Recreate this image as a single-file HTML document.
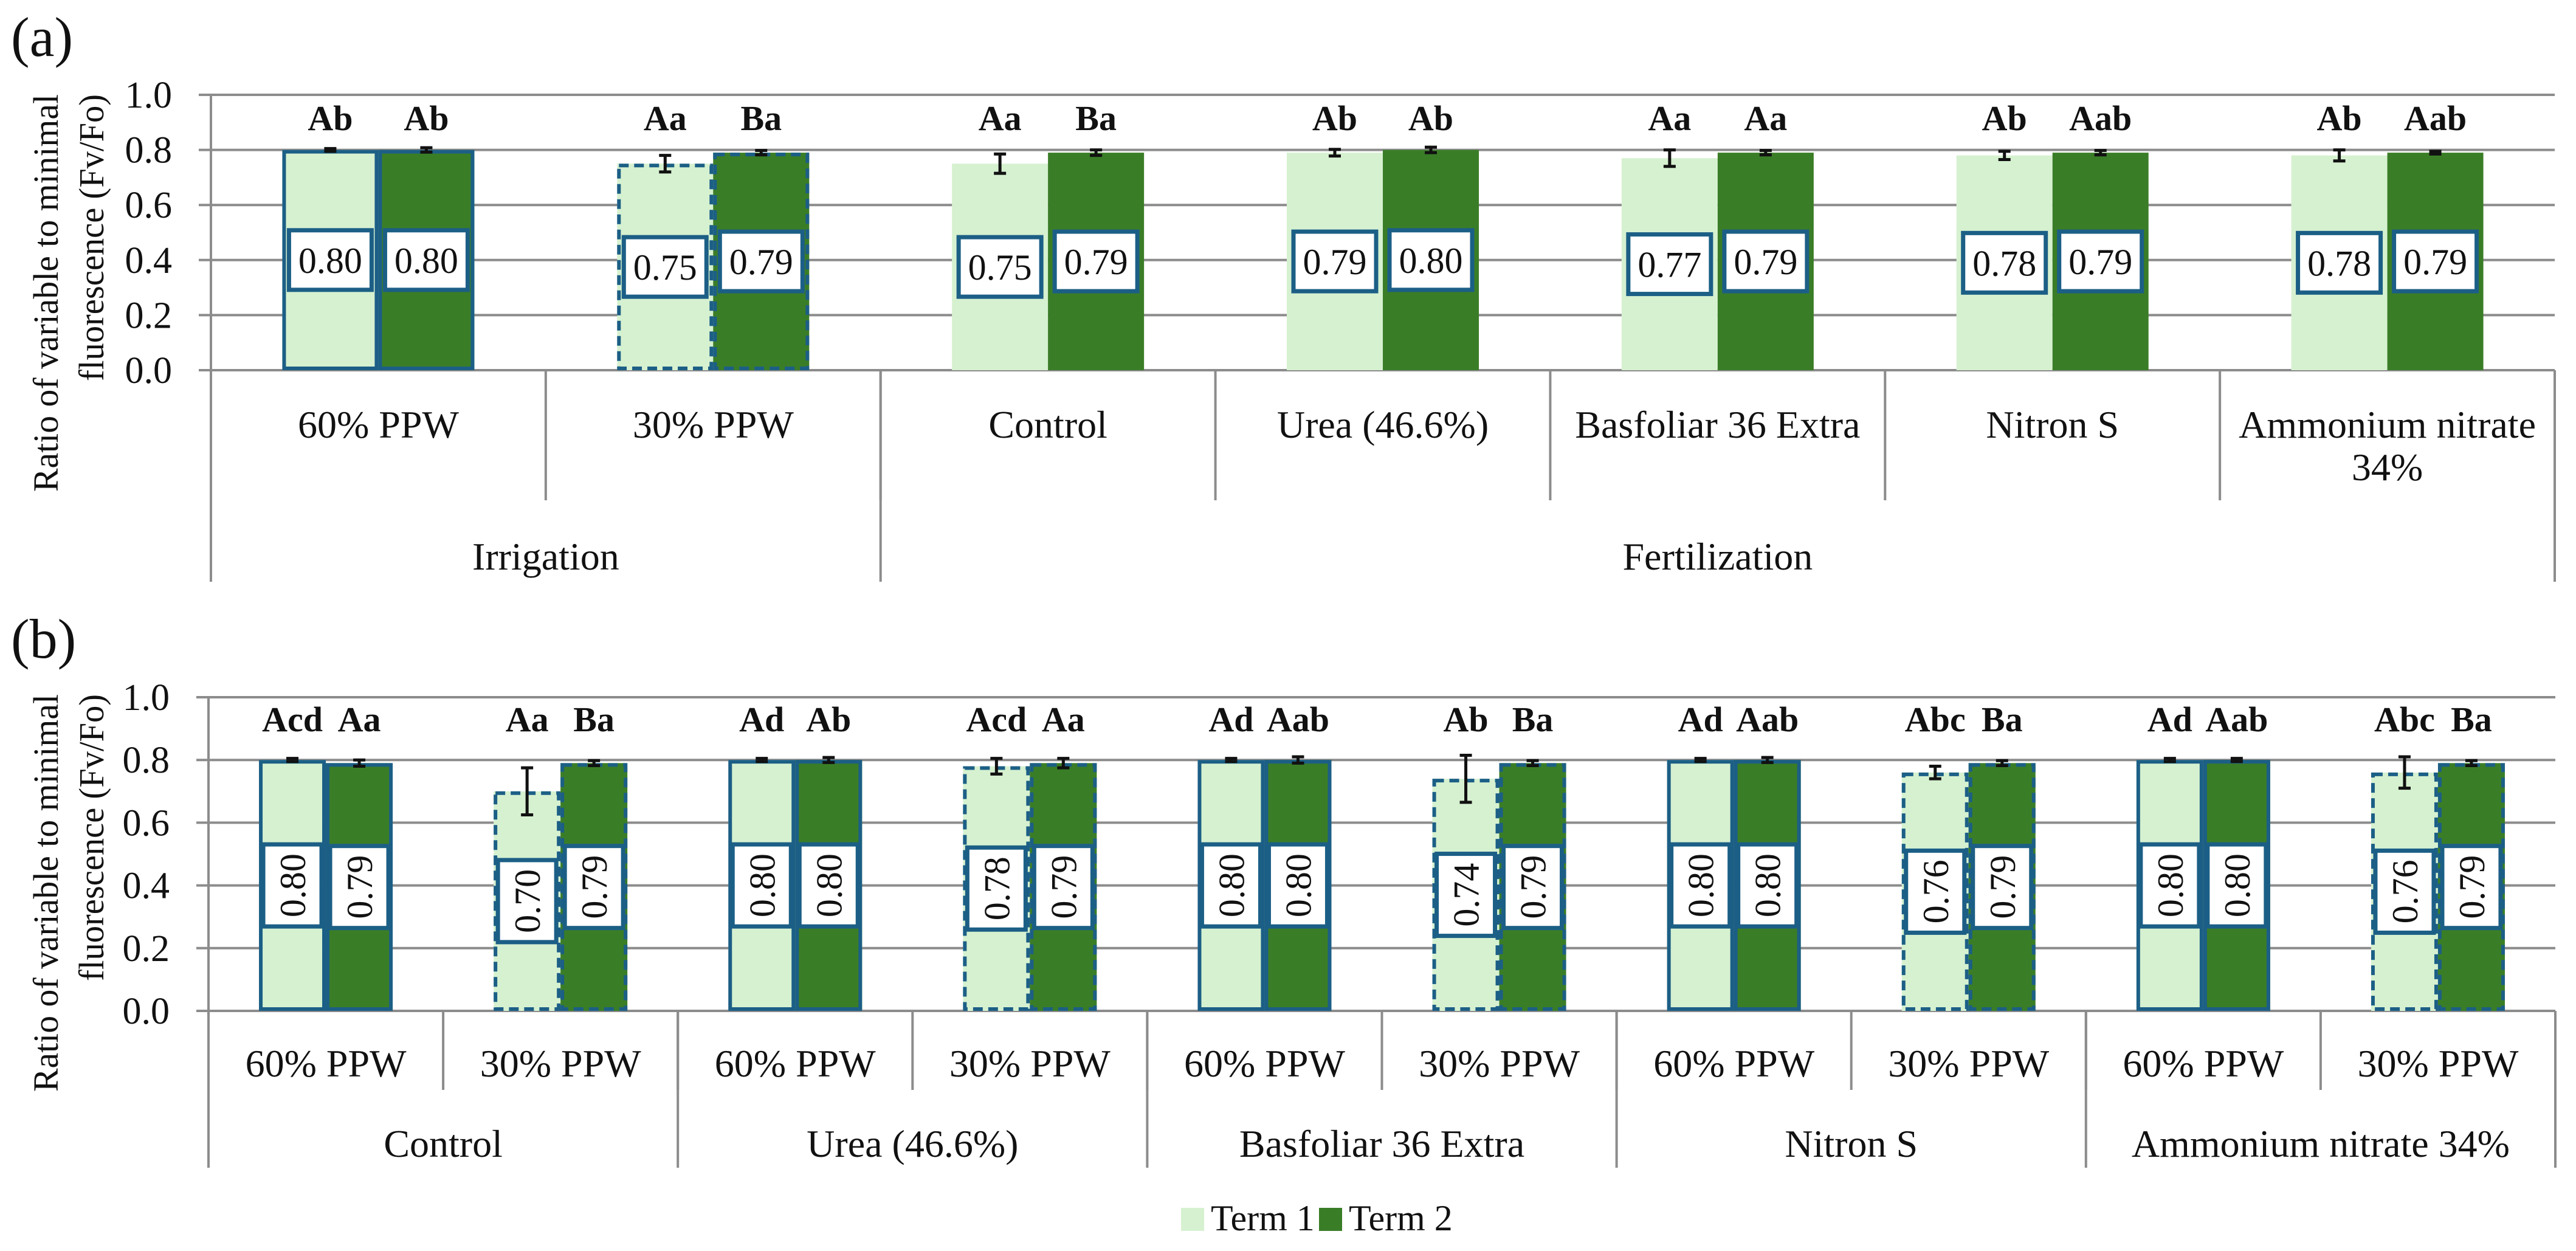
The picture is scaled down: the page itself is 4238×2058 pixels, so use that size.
<!DOCTYPE html>
<html><head><meta charset="utf-8"><style>
html,body{margin:0;padding:0;background:#fff}
svg{display:block}
text{font-family:"Liberation Serif",serif;fill:#111}
</style></head><body>
<svg id="chart" xmlns="http://www.w3.org/2000/svg" width="4238" height="2058" viewBox="0 0 4238 2058">
<text x="18" y="92" font-size="92">(a)</text>
<text x="18" y="1082" font-size="92">(b)</text>
<g>
<rect x="1943" y="1987" width="38" height="38" fill="#d6f1d0"/>
<text x="1992" y="2024" font-size="60">Term 1</text>
<rect x="2170" y="1987" width="38" height="38" fill="#3a7d27"/>
<text x="2219" y="2024" font-size="60">Term 2</text>
</g>
</svg>
<script>
// Panel (a) data
const aCats = ["60% PPW","30% PPW","Control","Urea (46.6%)","Basfoliar 36 Extra","Nitron S","Ammonium nitrate|34%"];
const aT1 = [0.80,0.75,0.75,0.79,0.77,0.78,0.78];
const aT2 = [0.80,0.79,0.79,0.80,0.79,0.79,0.79];
const aErr1 = [0.005,0.03,0.035,0.012,0.03,0.015,0.02];
const aErr2 = [0.008,0.008,0.01,0.01,0.008,0.008,0.005];
const aLet1 = ["Ab","Aa","Aa","Ab","Aa","Ab","Ab"];
const aLet2 = ["Ab","Ba","Ba","Ab","Aa","Aab","Aab"];
const aBorder = ["solid","dashed","none","none","none","none","none"];
const aGroups = ["Irrigation","Fertilization"];
const aGroupSpan = [2,5];
// Panel (b) data
const bCats = ["60% PPW","30% PPW","60% PPW","30% PPW","60% PPW","30% PPW","60% PPW","30% PPW","60% PPW","30% PPW"];
const bT1 = [0.80,0.70,0.80,0.78,0.80,0.74,0.80,0.76,0.80,0.76];
const bT2 = [0.79,0.79,0.80,0.79,0.80,0.79,0.80,0.79,0.80,0.79];
const bErr1 = [0.005,0.075,0.005,0.025,0.005,0.075,0.005,0.02,0.005,0.05];
const bErr2 = [0.01,0.008,0.008,0.015,0.01,0.008,0.008,0.008,0.005,0.008];
const bLet1 = ["Acd","Aa","Ad","Acd","Ad","Ab","Ad","Abc","Ad","Abc"];
const bLet2 = ["Aa","Ba","Ab","Aa","Aab","Ba","Aab","Ba","Aab","Ba"];
const bBorder = ["solid","dashed","solid","dashed","solid","dashed","solid","dashed","solid","dashed"];
const bGroups = ["Control","Urea (46.6%)","Basfoliar 36 Extra","Nitron S","Ammonium nitrate 34%"];
const bGroupSpan = [2,2,2,2,2];
const yTicks = ["0.0","0.2","0.4","0.6","0.8","1.0"];

const NS="http://www.w3.org/2000/svg";
const svg=document.getElementById('chart');
function mk(tag,attrs,parent){const e=document.createElementNS(NS,tag);for(const k in attrs)e.setAttribute(k,attrs[k]);(parent||svg).appendChild(e);return e;}

function panel(P){
  const g=mk('g',{});
  
  
  const y=v=>P.y0-(v)*(P.y0-P.y1);
  const n=P.cats.length, cw=(P.xR-P.x0)/n;
  const cx=i=>P.x0+cw*(i+0.5);
  yTicks.forEach(t=>{
    const v=parseFloat(t);
    const l=mk('line',{x1:P.gx,x2:P.xR,y1:y(v),y2:y(v),stroke:'#8c8c8c','stroke-width':4},g);
    
    
    const tx=mk('text',{x:P.tickX,y:y(v)+21,'font-size':62,'text-anchor':'end'},g);
    tx.textContent=t;
    
    
  });
  const tt=mk('text',{transform:`translate(${P.titleX1},${P.titleY}) rotate(-90)`,'font-size':58,'text-anchor':'end',fill:'#333',textLength:654,lengthAdjust:'spacingAndGlyphs'},g);
  tt.textContent="Ratio of variable to minimal";
  
  
  const tt2=mk('text',{transform:`translate(${P.titleX2},${P.titleY}) rotate(-90)`,'font-size':58,'text-anchor':'end',fill:'#333',textLength:P.t2len,lengthAdjust:'spacingAndGlyphs'},g);
  tt2.textContent="fluorescence (Fv/Fo)";
  
  
  const ax=mk('line',{x1:P.x0,x2:P.x0,y1:P.y1,y2:P.gBottom,stroke:'#8c8c8c','stroke-width':4},g);
  
  
  for(let i=1;i<=n;i++){
    const x=P.x0+cw*i;
    const d=mk('line',{x1:x,x2:x,y1:P.y0,y2:P.cBottom,stroke:'#8c8c8c','stroke-width':4},g);
    
    
  }
  let acc=0;
  P.groups.forEach((gn,k)=>{
    const s=acc; acc+=P.span[k];
    const x=P.x0+cw*acc;
    const d=mk('line',{x1:x,x2:x,y1:P.y0,y2:P.gBottom,stroke:'#8c8c8c','stroke-width':4},g);
    
    
    const t=mk('text',{x:P.x0+cw*(s+acc)/2,y:P.groupY,'font-size':64,'text-anchor':'middle'},g);
    t.textContent=gn;
    
    
  });
  const bw=P.bw;
  P.cats.forEach((c,i)=>{
    const lines=c.split('|');
    lines.forEach((ln,j)=>{
      const t=mk('text',{x:cx(i),y:P.catY+j*70,'font-size':64,'text-anchor':'middle'},g);
      t.textContent=ln;
      
      
    });
    [[P.t1,P.e1,P.l1,'#d6f1d0',-1,'term1'],[P.t2,P.e2,P.l2,'#3a7d27',0,'term2']].forEach(([vals,errs,lets,col,off,tn])=>{
      const v=vals[i], x=cx(i)+off*bw, top=y(v);
      const r=mk('rect',{x:x,y:top,width:bw,height:P.y0-top,fill:col},g);
      
      
      const bs=P.border[i];
      if(bs!=='none'){
        const o=mk('rect',{x:x+3,y:top+3,width:bw-6,height:P.y0-top-6,fill:'none',stroke:'#1c5f86','stroke-width':6,'stroke-dasharray':bs==='dashed'?'16 9':'none'},g);
        
        
      }
      const e=errs[i], ex=x+bw/2;
      const eb=mk('path',{d:`M${ex-10},${y(v+e)}H${ex+10}M${ex},${y(v+e)}V${y(v-e)}M${ex-10},${y(v-e)}H${ex+10}`,stroke:'#111','stroke-width':5,fill:'none'},g);
      
      
      const lt=mk('text',{x:ex,y:P.letY,'font-size':58,'font-weight':'bold','text-anchor':'middle'},g);
      lt.textContent=lets[i];
      
      
      const cy=y(v/2);
      const bx=mk('rect',{x:ex-P.boxW/2,y:cy-P.boxH/2,width:P.boxW,height:P.boxH,fill:'#fff',stroke:'#1c5f86','stroke-width':7},g);
      
      
      const vt=mk('text',{'font-size':60,'text-anchor':'middle',transform:P.rot?`translate(${ex+21},${cy}) rotate(-90)`:`translate(${ex},${cy+21})`},g);
      vt.textContent=v.toFixed(2);
      
      
    });
  });
}
panel({name:'panel-a',cats:aCats,t1:aT1,t2:aT2,e1:aErr1,e2:aErr2,l1:aLet1,l2:aLet2,border:aBorder,groups:aGroups,span:aGroupSpan,
  x0:347,xR:4203,gx:327,y0:609,y1:156,tickX:283,titleX1:95,titleX2:170,titleY:155,t2len:472,cBottom:823,gBottom:957,catY:720,groupY:937,letY:214,bw:158,boxW:136,boxH:98,rot:false});
panel({name:'panel-b',cats:bCats,t1:bT1,t2:bT2,e1:bErr1,e2:bErr2,l1:bLet1,l2:bLet2,border:bBorder,groups:bGroups,span:bGroupSpan,
  x0:343,xR:4204,gx:323,y0:1663,y1:1147,tickX:279,titleX1:95,titleX2:170,titleY:1142,t2len:472,cBottom:1793,gBottom:1921,catY:1771,groupY:1903,letY:1203,bw:110,boxW:96,boxH:135,rot:true});
</script>
</body></html>
